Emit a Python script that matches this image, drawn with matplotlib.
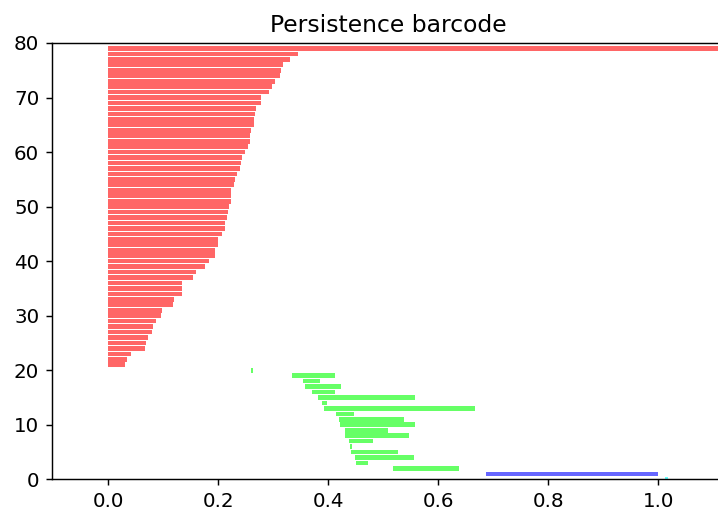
import numpy as np
import matplotlib
matplotlib.use("Agg")
import matplotlib.pyplot as plt

# persistence intervals per homology dimension, listed bottom bar first
h0_deaths = [0.0315, 0.035, 0.0425, 0.068, 0.0695, 0.0735, 0.079, 0.0825, 0.088,
             0.097, 0.0985, 0.1185, 0.1205, 0.1335, 0.135, 0.135, 0.155, 0.1605,
             0.177, 0.184, 0.195, 0.195, 0.2005, 0.2005, 0.2075, 0.213, 0.213,
             0.2165, 0.2185, 0.2205, 0.2225, 0.224, 0.224, 0.2295, 0.2315, 0.235,
             0.2405, 0.242, 0.244, 0.2495, 0.255, 0.2585, 0.2585, 0.2605, 0.266,
             0.266, 0.2675, 0.2695, 0.2785, 0.2785, 0.293, 0.297, 0.304, 0.3125,
             0.3135, 0.318, 0.331, 0.346, float("inf")]
h0_births = [0.0] * len(h0_deaths)

h1_births = [0.517, 0.451, 0.449, 0.442, 0.440, 0.437, 0.431, 0.430, 0.422, 0.420,
             0.415, 0.392, 0.388, 0.382, 0.370, 0.357, 0.355, 0.335, 0.259]
h1_deaths = [0.638, 0.473, 0.555, 0.527, 0.444, 0.482, 0.547, 0.508, 0.558, 0.537,
             0.446, 0.667, 0.397, 0.557, 0.413, 0.424, 0.386, 0.413, 0.264]

h2_births = [0.687]
h2_deaths = [1.0]

h3_births = [1.012]
h3_deaths = [1.018]

palette = ['#ff0000', '#00ff00', '#0000ff', '#00ffff']
alpha = 0.6

# same ordering as the barcode: highest dimension at the bottom
persistence = []
for dim, births, deaths in [(3, h3_births, h3_deaths), (2, h2_births, h2_deaths),
                            (1, h1_births, h1_deaths), (0, h0_births, h0_deaths)]:
    for b, d in zip(births, deaths):
        persistence.append((dim, (b, d)))

finite_deaths = [p[1][1] for p in persistence if np.isfinite(p[1][1])]
min_birth = min(p[1][0] for p in persistence)
max_death = max(finite_deaths)
delta = (max_death - min_birth) * 0.1
infinity = max_death + delta
axis_start = min_birth - delta

fig = plt.figure(figsize=(718 / 130, 514 / 130), dpi=130)
ax = fig.add_axes([52 / 718, 1 - 479.3 / 514, 672.4 / 718, 436.3 / 514])

ind = 0
for dim, (b, d) in persistence:
    end = d if np.isfinite(d) else infinity
    ax.barh(ind, end - b, height=0.86, left=b, alpha=alpha,
            color=palette[dim], linewidth=0)
    ind += 1

ax.set_title("Persistence barcode", fontsize=13)
ax.tick_params(labelsize=11)
ax.axis([axis_start, infinity, 0, ind])

fig.savefig("out.png", dpi=130)
